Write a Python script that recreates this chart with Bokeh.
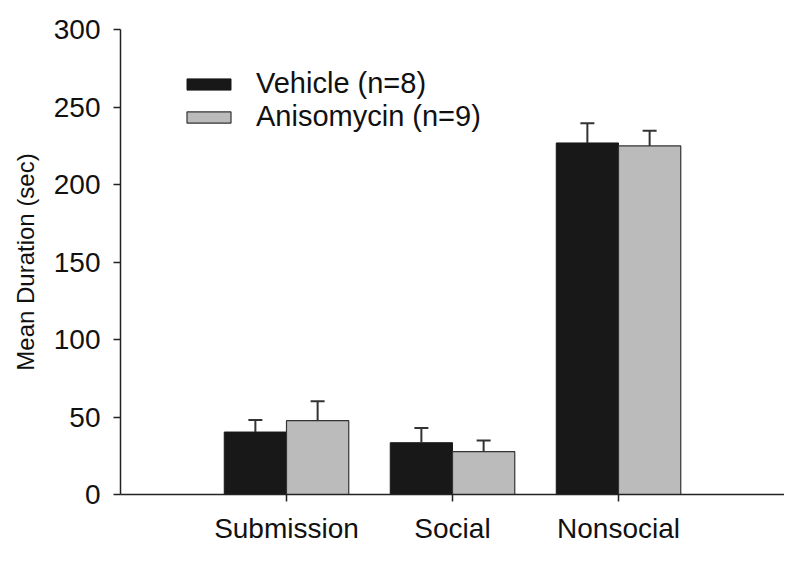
from bokeh.plotting import figure
from bokeh.models import Range1d, FixedTicker, Whisker, ColumnDataSource, Legend, LegendItem, TeeHead
from bokeh.embed import file_html
from bokeh.resources import INLINE

categories = ["Submission", "Social", "Nonsocial"]
vehicle_mean = [40.3, 33.4, 226.8]
vehicle_sem = [7.7, 9.5, 12.7]
aniso_mean = [47.6, 27.6, 224.9]
aniso_sem = [12.6, 7.3, 9.7]
series_labels = ["Vehicle (n=8)", "Anisomycin (n=9)"]
y_ticks = [0, 50, 100, 150, 200, 250, 300]

FONT = "Liberation Sans"
offset = 0.1875
bar_w = 0.375
centers = [i + 1 for i in range(len(categories))]

p = figure(width=784, height=546, x_range=Range1d(0, 4), y_range=Range1d(0, 300),
           output_backend="svg", toolbar_location=None,
           min_border_left=120, min_border_right=0, min_border_top=29, min_border_bottom=52)
p.outline_line_color = None
p.xgrid.visible = False
p.ygrid.visible = False

src_v = ColumnDataSource(dict(x=[c - offset for c in centers], top=vehicle_mean,
                              up=[m + s for m, s in zip(vehicle_mean, vehicle_sem)]))
src_a = ColumnDataSource(dict(x=[c + offset for c in centers], top=aniso_mean,
                              up=[m + s for m, s in zip(aniso_mean, aniso_sem)]))

r_v = p.vbar(x="x", top="top", bottom=0, width=bar_w, source=src_v,
             fill_color="#181818", line_color="#181818", line_width=1)
r_a = p.vbar(x="x", top="top", bottom=0, width=bar_w, source=src_a,
             fill_color="#bbbbbb", line_color="#333333", line_width=1.2)

for src in (src_v, src_a):
    w = Whisker(base="x", lower="top", upper="up", source=src,
                line_color="#333333", line_width=2,
                upper_head=TeeHead(size=14, line_color="#333333", line_width=2),
                lower_head=None, level="overlay")
    p.add_layout(w)

# axes
for ax in (p.xaxis[0], p.yaxis[0]):
    ax.axis_line_color = "#222222"
    ax.axis_line_width = 1.5
    ax.major_tick_line_color = "#222222"
    ax.major_tick_line_width = 1.5
    ax.major_tick_out = 7
    ax.major_tick_in = 0
    ax.minor_tick_line_color = None
    ax.major_label_text_font = FONT
    ax.major_label_text_color = "#111111"

p.yaxis.ticker = FixedTicker(ticks=y_ticks)
p.yaxis.major_label_text_font_size = "28px"
p.yaxis.major_label_standoff = 13
p.yaxis.axis_label = "Mean Duration (sec)"
p.yaxis.axis_label_text_font = FONT
p.yaxis.axis_label_text_font_size = "24px"
p.yaxis.axis_label_text_font_style = "normal"
p.yaxis.axis_label_text_color = "#111111"
p.yaxis.axis_label_standoff = 12

p.xaxis.ticker = FixedTicker(ticks=centers)
p.xaxis.major_label_overrides = {c: name for c, name in zip(centers, categories)}
p.xaxis.major_label_text_font_size = "28px"
p.xaxis.major_label_standoff = 11

legend = Legend(items=[LegendItem(label=series_labels[0], renderers=[r_v]),
                       LegendItem(label=series_labels[1], renderers=[r_a])],
                location=(61, 361))
legend.glyph_width = 55
legend.glyph_height = 14
legend.label_height = 30
legend.label_standoff = 20
legend.spacing = 0
legend.padding = 0
legend.margin = 0
legend.border_line_color = None
legend.background_fill_alpha = 0
legend.label_text_font = FONT
legend.label_text_font_size = "29px"
legend.label_text_color = "#111111"
p.add_layout(legend)

open("out.html", "w").write(file_html(p, INLINE))
